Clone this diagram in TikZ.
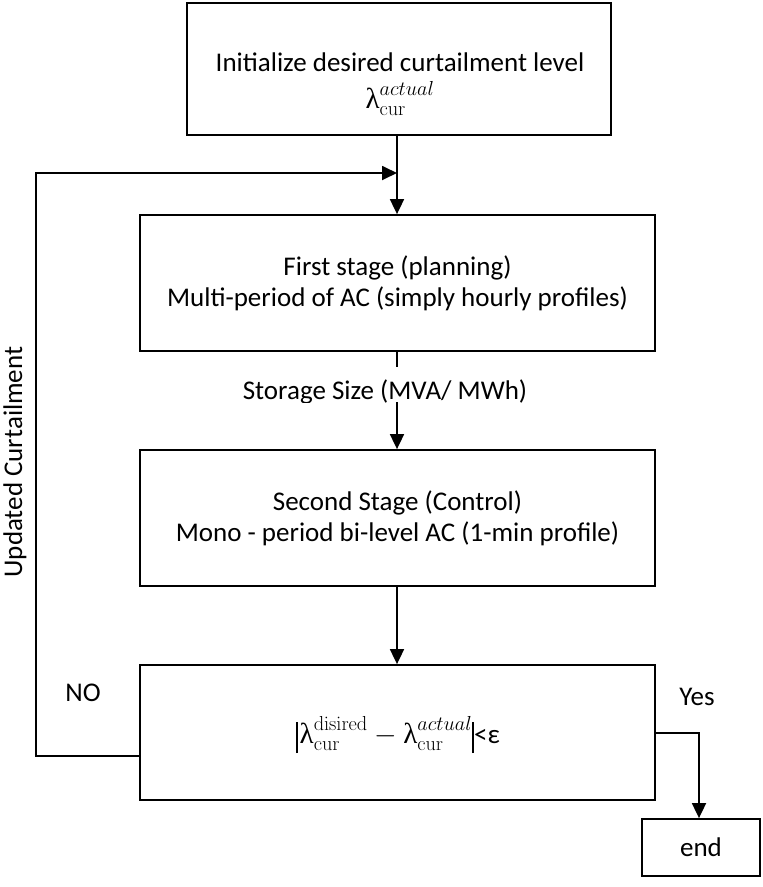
\RequirePackage{fix-cm}
\documentclass[tikz,border=0pt]{standalone}
\usepackage[no-math]{fontspec}
\setmainfont{Carlito}
\newfontfamily\grfont{Liberation Serif}
\usetikzlibrary{arrows.meta}
\newcommand\lam{\mbox{\grfont λ}}
\newcommand\fsz{\fontsize{27}{31}\selectfont}
\newcommand\mfsz{\fontsize{29}{34}\selectfont}
\newcommand\absbar{\rule[-10pt]{2pt}{31pt}}
\begin{document}
\begin{tikzpicture}[x=1pt,y=-1pt,
  box/.style={draw, line width=1.8pt, align=center, font=\fsz, inner sep=0pt},
  flow/.style={line width=1.8pt, -{Triangle[length=15pt,width=14pt]}},
  lbl/.style={font=\fsz, inner sep=0pt}]
\useasboundingbox (0,0) rectangle (763,887);

% process boxes
\node[box, minimum width=424pt, minimum height=132pt] (init) at (399,69) {};
\node[lbl, align=center] (inittext) at (400,84)
  {Initialize desired curtailment level\\[6pt] {\mfsz$\lam^{actual}_{\mathrm{cur}}$}};
\node[box, minimum width=515pt, minimum height=136pt] (plan) at (397.5,283)
  {First stage (planning)\\Multi-period of AC (simply hourly profiles)};
\node[box, minimum width=515pt, minimum height=136pt] (ctrl) at (397.5,518)
  {Second Stage (Control)\\Mono - period bi-level AC (1-min profile)};
\node[box, minimum width=515pt, minimum height=135pt] (check) at (397.5,732.5) {};
\node[lbl, anchor=base] (checktext) at (398,743)
  {{\mfsz$\absbar\mkern1mu\lam^{\mathrm{disired}}_{\mathrm{cur}}-\lam^{actual}_{\mathrm{cur}}\absbar$}<ε};
\node[box, minimum width=118pt, minimum height=57pt] (end) at (701,847.5) {end};

% bend points
\coordinate (join) at (397,173);
\coordinate (nobend) at (36,756);
\coordinate (notop) at (36,173);
\coordinate (yesbend) at (699,733);

% main flow
\draw[flow] (init.south -| join) -- (plan.north -| join);
\draw[flow] (plan.south -| join) -- (ctrl.north -| join);
\draw[flow] (ctrl.south -| join) -- (check.north -| join);

% feedback loop and exit
\draw[flow] (check.west |- nobend) -- (nobend) -- (notop) -- (join);
\draw[flow] (check.east |- yesbend) -- (yesbend) -- (end.north -| yesbend);

% storage size label, its box cut off at the bottom
\begin{scope}
  \clip (230,367) rectangle (545,402);
  \fill[white] (230,367) rectangle (545,402);
  \node[lbl, anchor=base] (stor) at (385,399) {Storage Size (MVA/ MWh)};
\end{scope}

% labels
\node[lbl] (no) at (83,693) {NO};
\node[lbl] (yes) at (697,697) {Yes};
\node[lbl, rotate=90] (upd) at (15,462) {Updated Curtailment};
\end{tikzpicture}
\end{document}
